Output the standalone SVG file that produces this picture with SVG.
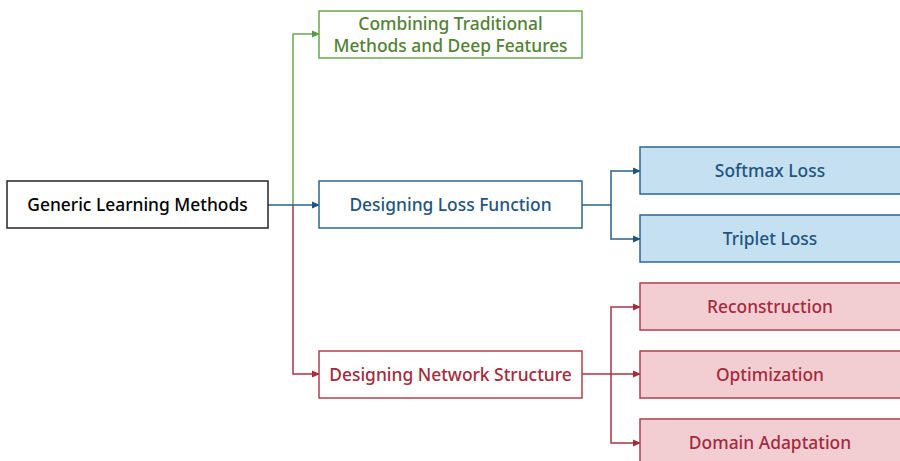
<svg xmlns="http://www.w3.org/2000/svg" width="900" height="461" viewBox="0 0 900 461">
<style>
text{font-family:"Noto Sans","Open Sans","DejaVu Sans",sans-serif;font-size:17.4px;font-weight:500;text-anchor:middle;dominant-baseline:central}
.box{stroke-width:1.5}
.k rect{fill:#fff;stroke:#262626}.k text{fill:#000}
.g rect{fill:#fff;stroke:#6aa84f}.g text{fill:#538135}
.b rect{stroke:#2e6690}.b text{fill:#1f557f}
.r rect{stroke:#b0404f}.r text{fill:#a52a3c}
.bw rect{fill:#fff}.bf rect{fill:#c4e0f1}
.rw rect{fill:#fff}.rf rect{fill:#f2ced3}
.cg{stroke:#6aa84f}.cb{stroke:#2a6188}.cr{stroke:#ad3245}
#connectors path{fill:none;stroke-width:1.5}
</style>
<defs>
<marker id="ag" markerWidth="8" markerHeight="8" refX="7" refY="4" orient="auto" markerUnits="userSpaceOnUse"><path d="M0,0.5 L8,4 L0,7.5z" fill="#5a9a40"/></marker>
<marker id="ab" markerWidth="8" markerHeight="8" refX="7" refY="4" orient="auto" markerUnits="userSpaceOnUse"><path d="M0,0.5 L8,4 L0,7.5z" fill="#1f557f"/></marker>
<marker id="ar" markerWidth="8" markerHeight="8" refX="7" refY="4" orient="auto" markerUnits="userSpaceOnUse"><path d="M0,0.5 L8,4 L0,7.5z" fill="#a52a3c"/></marker>
</defs>
<g id="connectors">
<path class="cg" d="M293,205 V34 H319" marker-end="url(#ag)"/>
<path class="cr" d="M293,205 V374 H319" marker-end="url(#ar)"/>
<path class="cb" d="M268,205 H319" marker-end="url(#ab)"/>
<path class="cb" d="M582,205 H611 V171 H640" marker-end="url(#ab)"/>
<path class="cb" d="M611,205 V239 H640" marker-end="url(#ab)"/>
<path class="cr" d="M611,374 V307 H640" marker-end="url(#ar)"/>
<path class="cr" d="M611,374 V443 H640" marker-end="url(#ar)"/>
<path class="cr" d="M582,374 H640" marker-end="url(#ar)"/>
</g>
<g id="root" class="k"><rect class="box" x="7" y="181" width="261" height="47"/><text x="137.5" y="204">Generic Learning Methods</text></g>
<g id="combining" class="g"><rect class="box" x="319" y="11" width="263" height="47"/><text x="450.5" y="23">Combining Traditional</text><text x="450.5" y="45">Methods and Deep Features</text></g>
<g id="loss" class="b bw"><rect class="box" x="319" y="181" width="263" height="47"/><text x="450.5" y="204">Designing Loss Function</text></g>
<g id="network" class="r rw"><rect class="box" x="319" y="351" width="263" height="47"/><text x="450.5" y="374">Designing Network Structure</text></g>
<g id="softmax" class="b bf"><rect class="box" x="640" y="147" width="270" height="47"/><text x="770" y="170">Softmax Loss</text></g>
<g id="triplet" class="b bf"><rect class="box" x="640" y="215" width="270" height="47"/><text x="770" y="238">Triplet Loss</text></g>
<g id="reconstruction" class="r rf"><rect class="box" x="640" y="283" width="270" height="47"/><text x="770" y="306">Reconstruction</text></g>
<g id="optimization" class="r rf"><rect class="box" x="640" y="351" width="270" height="47"/><text x="770" y="374">Optimization</text></g>
<g id="domain" class="r rf"><rect class="box" x="640" y="419" width="270" height="47"/><text x="770" y="442">Domain Adaptation</text></g>
</svg>
